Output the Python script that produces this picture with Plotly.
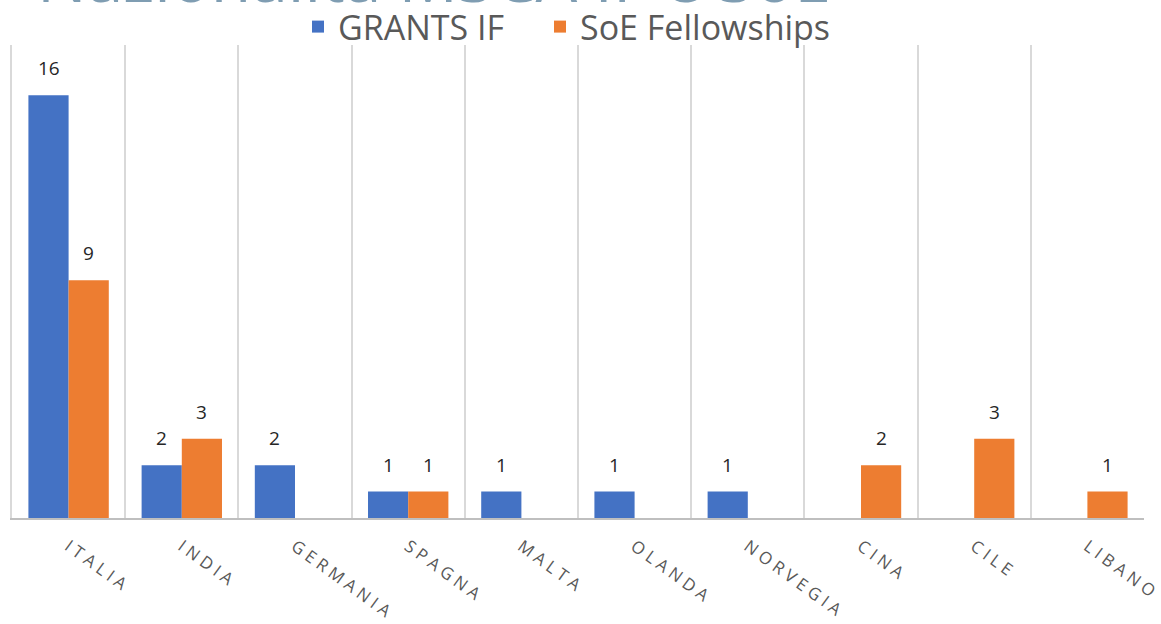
import plotly.graph_objects as go

categories = ["ITALIA", "INDIA", "GERMANIA", "SPAGNA", "MALTA", "OLANDA",
              "NORVEGIA", "CINA", "CILE", "LIBANO"]
grants_if = [16, 2, 2, 1, 1, 1, 1, 0, 0, 0]
soe_fellowships = [9, 3, 0, 1, 0, 0, 0, 2, 3, 1]
series_names = ["GRANTS IF", "SoE Fellowships"]
title_text = "Nazionalità MSCA IF e SoE"

FONT = "Open Sans"
W, H = 1161, 624
ML, MR, MT, MB = 12, 17, 45, 106
PLOT_W = W - ML - MR
PLOT_H = H - MT - MB

def spaced(s):
    return " ".join(list(s))

def vals(v):
    return [x if x else None for x in v]

fig = go.Figure()
colors = ["#4472C4", "#ED7D31"]
legend_ids = ["legend", "legend2"]
legend_left_px = [298, 540]
all_series = [grants_if, soe_fellowships]
for name, data, color, lg in zip(series_names, all_series, colors, legend_ids):
    fig.add_trace(go.Bar(
        name=name, x=categories, y=vals(data), legend=lg,
        marker=dict(color=color, line=dict(width=0)),
    ))

# data labels above each bar (grouped offset of half a bar)
cat_px = PLOT_W / len(categories)
bar_px = cat_px * (1 - 0.29) / 2
for si, data in enumerate(all_series):
    shift = (si - 0.5) * bar_px
    for c, v in zip(categories, data):
        if v:
            fig.add_annotation(
                x=c, y=v, xref="x", yref="y", text=str(v), showarrow=False,
                xshift=shift, yshift=27, yanchor="middle",
                font=dict(family=FONT, size=19, color="#262626"),
            )

legend_style = dict(orientation="h", xanchor="left",
                    y=1 + 18 / PLOT_H, yanchor="middle", bgcolor="rgba(0,0,0,0)",
                    font=dict(family=FONT, size=34, color="#595959"))

fig.update_layout(
    width=W, height=H,
    margin=dict(l=ML, r=MR, t=MT, b=MB, autoexpand=False),
    paper_bgcolor="white", plot_bgcolor="white",
    barmode="group", bargap=0.29, bargroupgap=0,
    showlegend=True,
    legend=dict(x=(legend_left_px[0] - ML) / PLOT_W, **legend_style),
    legend2=dict(x=(legend_left_px[1] - ML) / PLOT_W, **legend_style),
    font=dict(family=FONT),
)

fig.update_xaxes(
    type="category",
    tickmode="array", tickvals=categories, ticktext=[spaced(c) for c in categories],
    tickson="boundaries", ticks="", tickangle=36, ticklabelstandoff=10,
    showgrid=True, gridcolor="#D9D9D9", gridwidth=2,
    showline=True, linecolor="#BFBFBF", linewidth=2,
    tickfont=dict(family=FONT, size=17, color="#595959"),
)
fig.update_yaxes(
    range=[0, 17.9], showgrid=False, showticklabels=False, zeroline=False,
    showline=True, linecolor="#D9D9D9", linewidth=2, ticks="",
)

fig.add_annotation(
    text=title_text, xref="paper", yref="paper", x=(35 - ML) / PLOT_W, y=1.0,
    xanchor="left", yanchor="bottom", yshift=22, showarrow=False,
    font=dict(family=FONT, size=66, color="#7F9DB2"),
)

fig.write_html("out.html", config={"displayModeBar": False},
               post_script="document.body.style.margin='0';")
